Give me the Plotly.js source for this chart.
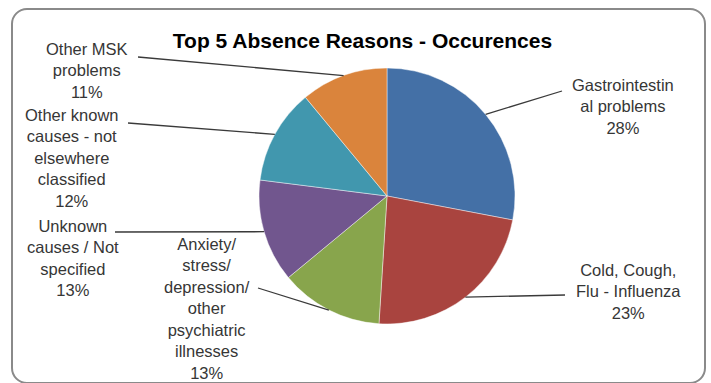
<!DOCTYPE html>
<html>
<head>
<meta charset="utf-8">
<script src="https://cdn.plot.ly/plotly-3.0.1.min.js"></script>
<style>
  html, body { margin: 0; padding: 0; background: #ffffff; }
  #wrap { position: relative; width: 711px; height: 383px; overflow: hidden; }
  #frame { position: absolute; left: 11px; top: 8px; width: 695px; height: 376px;
           border: 2px solid #8a8a8a; border-radius: 16px; box-sizing: border-box; }
  #chart { position: absolute; left: 0; top: 0; width: 711px; height: 383px; }
</style>
</head>
<body>
<div id="wrap">
  <div id="frame"></div>
  <div id="chart"></div>
</div>
<script>
// ---- Data ----
const categories = [
  'Gastrointestinal problems',
  'Cold, Cough, Flu - Influenza',
  'Anxiety/ stress/ depression/ other psychiatric illnesses',
  'Unknown causes / Not specified',
  'Other known causes - not elsewhere classified',
  'Other MSK problems'
];
const labelLines = [
  ['Gastrointestin', 'al problems'],
  ['Cold, Cough,', 'Flu - Influenza'],
  ['Anxiety/', 'stress/', 'depression/', 'other', 'psychiatric', 'illnesses'],
  ['Unknown', 'causes / Not', 'specified'],
  ['Other known', 'causes - not', 'elsewhere', 'classified'],
  ['Other MSK', 'problems']
];
const occurrences = [28, 23, 13, 13, 12, 11];
const sliceColors = ['#4470A6', '#A9443F', '#88A54C', '#71568E', '#4197AE', '#DA843C'];

// ---- Layout helpers (pixel -> paper) ----
const W = 711, H = 383;
const px = x => x / W;
const py = y => 1 - y / H;

// pie geometry (pixels)
const cx = 387, cy = 196, R = 128;

// label block centres and leader-line tails (pixels)
const labelPos = [[623, 107], [628, 291], [207, 308], [73, 258], [72, 158], [87, 70]];
const leaderTail = [[562, 91], [565, 295], [258, 288], [115, 232], [128, 123], [138, 57]];

const total = occurrences.reduce((a, b) => a + b, 0);

const annotations = [];
const shapes = [];
let cum = 0;
occurrences.forEach((v, i) => {
  const pct = Math.round(v / total * 100) + '%';
  const mid = (cum + v / 2) / total * 2 * Math.PI;
  cum += v;
  const tipX = cx + R * Math.sin(mid);
  const tipY = cy - R * Math.cos(mid);
  annotations.push({
    xref: 'paper', yref: 'paper',
    x: px(labelPos[i][0]), y: py(labelPos[i][1]),
    xanchor: 'center', yanchor: 'middle', align: 'center',
    showarrow: false,
    text: labelLines[i].concat([pct]).join('<br>'),
    font: { family: 'Liberation Sans, Arial, sans-serif', size: 16.5, color: '#363636' }
  });
  shapes.push({
    type: 'line', xref: 'paper', yref: 'paper',
    x0: px(leaderTail[i][0]), y0: py(leaderTail[i][1]),
    x1: px(tipX), y1: py(tipY),
    line: { color: '#3a3a3a', width: 1.3 }
  });
});

const trace = {
  type: 'pie',
  labels: categories,
  values: occurrences,
  sort: false,
  direction: 'clockwise',
  rotation: 0,
  textinfo: 'none',
  hoverinfo: 'label+percent',
  marker: { colors: sliceColors, line: { color: 'rgba(255,255,255,0.55)', width: 0.8 } },
  domain: { x: [px(cx - R), px(cx + R)], y: [py(cy + R), py(cy - R)] },
  showlegend: false
};

const layout = {
  width: W, height: H,
  margin: { l: 0, r: 0, t: 0, b: 0 },
  paper_bgcolor: 'rgba(0,0,0,0)',
  plot_bgcolor: 'rgba(0,0,0,0)',
  title: {
    text: '<b>Top 5 Absence Reasons - Occurences</b>',
    xref: 'paper', yref: 'paper',
    x: px(362.5), y: py(41), xanchor: 'center', yanchor: 'middle',
    font: { family: 'Liberation Sans, Arial, sans-serif', size: 21, color: '#000000' }
  },
  showlegend: false,
  annotations: annotations,
  shapes: shapes
};

Plotly.newPlot('chart', [trace], layout, { displayModeBar: false, staticPlot: true });
</script>
</body>
</html>
